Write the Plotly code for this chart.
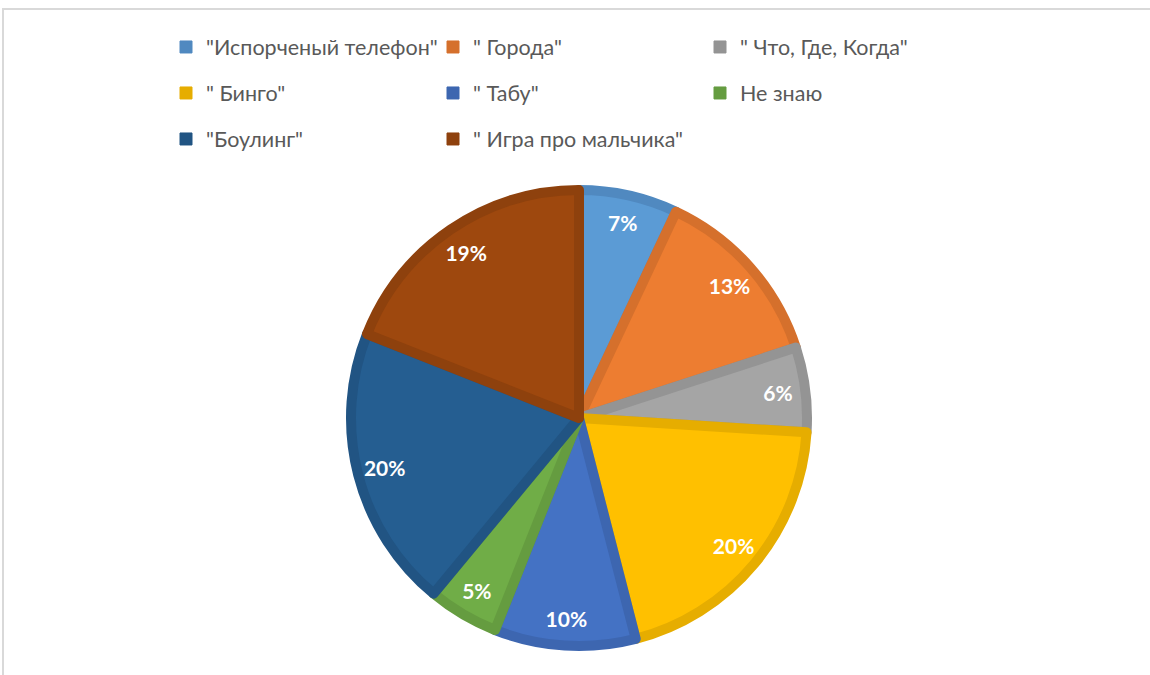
import plotly.graph_objects as go

# Survey answers: favourite game
labels = ['"Испорченый телефон"', '" Города"', '" Что, Где, Когда"',
          '" Бинго"', '" Табу"', 'Не знаю',
          '"Боулинг"', '" Игра про мальчика"']
values = [7, 13, 6, 20, 10, 5, 20, 19]

# slice fill and edge colours (Office palette, with a darker edge shade)
fill_colors = ["#5B9BD5", "#ED7D31", "#A5A5A5", "#FFC000",
               "#4472C4", "#70AD47", "#255E91", "#9E480E"]
edge_colors = ["#5089C0", "#D5702C", "#949494", "#E6AD00",
               "#3D66B0", "#659C40", "#215483", "#8E410D"]

W, H = 1150, 675
FONT = "Lato"

# pie geometry in pixels
cx, cy, r = 579, 418, 228


def dom(cx, cy, r):
    return dict(x=[(cx - r) / W, (cx + r) / W],
                y=[1 - (cy + r) / H, 1 - (cy - r) / H])


fig = go.Figure()

fig.add_trace(go.Pie(
    labels=labels, values=values, sort=False, direction="clockwise",
    rotation=0, domain=dom(cx, cy, r),
    marker=dict(colors=fill_colors, line=dict(color=edge_colors, width=10)),
    textinfo="none", showlegend=False, hoverinfo="label+percent",
))

# transparent ring carrying the percentage labels near the rim
fig.add_trace(go.Pie(
    labels=labels, values=values, sort=False, direction="clockwise",
    rotation=0, domain=dom(cx, cy, r), hole=0.76,
    marker=dict(colors=["rgba(0,0,0,0)"] * len(values),
                line=dict(width=0)),
    textinfo="percent", texttemplate="%{percent:.0%}",
    textposition="inside", insidetextorientation="horizontal",
    insidetextfont=dict(family=FONT, size=21, color="white", weight="bold"),
    showlegend=False, hoverinfo="skip",
))

# legend: three rows of entries
rows = [[0, 1, 2], [3, 4, 5], [6, 7]]
row_y = [47, 93, 139]
legend_names = ["legend", "legend2", "legend3"]
for li, (idxs, ry) in enumerate(zip(rows, row_y)):
    for i in idxs:
        fig.add_trace(go.Bar(
            x=[None], y=[None], name=labels[i],
            marker=dict(color=edge_colors[i],
                        line=dict(color=edge_colors[i], width=1)),
            legend=legend_names[li], showlegend=True, hoverinfo="skip",
        ))

legend_common = dict(
    orientation="h", xanchor="left", yanchor="middle",
    x=166 / W, font=dict(family=FONT, size=21.5, color="#595959"),
    entrywidth=222, itemclick=False, itemdoubleclick=False,
    bgcolor="rgba(0,0,0,0)", itemwidth=30,
)

layout_legends = {}
for name, ry in zip(legend_names, row_y):
    layout_legends[name] = dict(legend_common, y=1 - ry / H)

fig.update_layout(
    width=W, height=H,
    margin=dict(l=0, r=0, t=0, b=0),
    paper_bgcolor="white", plot_bgcolor="white",
    xaxis=dict(visible=False), yaxis=dict(visible=False),
    shapes=[dict(type="rect", xref="paper", yref="paper",
                 x0=3 / W, y0=-0.1, x1=1.1, y1=1 - 9 / H,
                 line=dict(color="#D9D9D9", width=2))],
    **layout_legends,
)

fig.write_html("out.html")
